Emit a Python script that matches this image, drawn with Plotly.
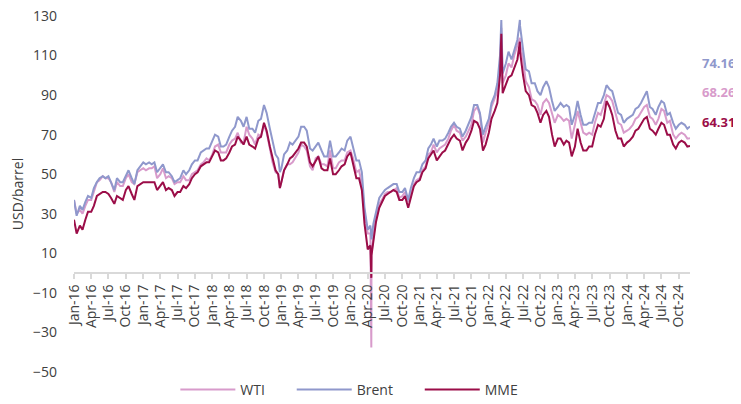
import pandas as pd
import plotly.graph_objects as go

# semi-monthly observation dates (1st and 15th), plus a few event days
base_dates = []
for yr in range(2016, 2025):
    for mo in range(1, 13):
        for d in (1, 15):
            dt = pd.Timestamp(yr, mo, d)
            if dt <= pd.Timestamp("2024-11-15"):
                base_dates.append(dt)
base_dates.append(pd.Timestamp("2024-11-29"))

brent = [
    37, 29, 34, 32, 36, 39, 38, 43, 46, 48, 49, 48, 49, 46, 42, 48, 46, 46, 49, 52, 48, 45, 52, 54,
    56, 55, 56, 55, 56, 51, 53, 55, 51, 51, 49, 46, 47, 48, 52, 50, 52, 55, 57, 57, 61, 62, 63, 63,
    67, 70, 69, 64, 64, 65, 69, 72, 74, 79, 77, 74, 79, 73, 73, 71, 77, 78, 85, 81, 73, 66, 60, 58,
    53, 60, 62, 66, 65, 67, 69, 74, 74, 72, 63, 62, 64, 66, 62, 59, 59, 67, 59, 59, 61, 63, 62, 67,
    69, 64, 57, 57, 51, 33, 22, 24, 25, 31, 38, 40, 42, 43, 44, 45, 45, 41, 41, 43, 37, 43, 48, 51,
    51, 55, 57, 63, 65, 68, 64, 67, 67, 68, 71, 74, 76, 74, 73, 69, 72, 75, 79, 85, 85, 81, 70, 74,
    78, 86, 90, 96, 110, 101, 106, 112, 108, 113, 118, 125, 113, 103, 102, 96, 96, 92, 90, 94, 97, 94, 87, 82,
    84, 86, 84, 85, 84, 75, 80, 87, 80, 75, 75, 76, 76, 80, 86, 86, 90, 95, 93, 92, 86, 81, 80, 76,
    78, 79, 80, 83, 84, 86, 89, 92, 84, 83, 80, 84, 87, 86, 80, 81, 76, 73, 75, 76, 75, 73, 74.16,
]
wti = [
    37, 30, 32, 30, 34, 37, 37, 41, 46, 47, 49, 48, 48, 46, 41, 46, 44, 44, 48, 50, 46, 45, 51, 52,
    53, 52, 53, 53, 54, 48, 50, 53, 48, 49, 48, 45, 46, 46, 49, 47, 47, 50, 51, 52, 55, 56, 58, 57,
    60, 64, 65, 61, 61, 61, 65, 67, 68, 71, 66, 66, 74, 70, 68, 65, 70, 69, 75, 71, 63, 56, 51, 50,
    46, 52, 55, 55, 56, 58, 61, 65, 64, 62, 54, 52, 58, 59, 55, 55, 54, 62, 53, 53, 56, 57, 57, 61,
    62, 58, 51, 52, 45, 31, 20, 20, 19, 29, 35, 37, 40, 41, 41, 42, 43, 38, 39, 41, 36, 40, 45, 47,
    48, 52, 54, 60, 61, 65, 61, 63, 64, 65, 68, 72, 75, 72, 71, 67, 69, 72, 75, 82, 84, 80, 66, 71,
    76, 84, 88, 92, 103, 96, 100, 106, 104, 110, 115, 116, 108, 97, 94, 88, 87, 85, 80, 86, 88, 86, 80, 76,
    80, 79, 77, 78, 77, 68, 75, 82, 76, 71, 70, 71, 70, 76, 81, 80, 85, 90, 89, 87, 81, 76, 75, 71,
    72, 73, 75, 78, 79, 81, 84, 85, 79, 78, 75, 78, 83, 82, 76, 77, 70, 68, 70, 71, 70, 68, 68.26,
]
mme = [
    27, 20, 24, 22, 27, 31, 31, 34, 39, 40, 41, 41, 40, 38, 35, 39, 38, 37, 42, 44, 40, 37, 44, 45,
    46, 46, 46, 46, 46, 42, 44, 46, 42, 43, 42, 39, 41, 41, 44, 43, 45, 48, 50, 51, 54, 55, 56, 56,
    59, 62, 61, 57, 57, 58, 61, 64, 65, 69, 67, 65, 69, 65, 64, 63, 68, 69, 76, 72, 64, 58, 52, 50,
    46, 52, 55, 58, 59, 61, 63, 66, 66, 64, 56, 54, 57, 59, 53, 52, 52, 58, 50, 50, 52, 54, 55, 59,
    61, 55, 48, 48, 42, 25, 12, 14, 17, 26, 33, 36, 39, 40, 41, 42, 41, 37, 37, 39, 33, 38, 44, 46,
    47, 51, 53, 58, 60, 62, 57, 59, 61, 62, 65, 68, 70, 68, 67, 62, 66, 68, 72, 77, 76, 73, 62, 65,
    71, 78, 82, 86, 100, 91, 96, 99, 100, 104, 108, 112, 100, 92, 90, 85, 84, 81, 76, 80, 82, 79, 70, 64,
    68, 68, 65, 67, 66, 59, 64, 73, 66, 62, 62, 64, 64, 70, 75, 74, 78, 87, 84, 80, 72, 68, 68, 64,
    66, 67, 69, 72, 73, 75, 78, 79, 73, 72, 70, 73, 76, 75, 70, 70, 65, 63, 66, 67, 66, 64, 64.31,
]

# extra event days
event_dates = ["2018-12-24", "2020-04-20", "2020-04-21", "2022-03-08", "2022-06-14"]
event_brent = [51, 20, 17, 128, 128]
event_wti = [43, -37.6, 10, 124, 119]
event_mme = [43, -2.4, 9, 121, 117]

df = pd.DataFrame({"date": base_dates, "brent": brent, "wti": wti, "mme": mme})
ev = pd.DataFrame({"date": pd.to_datetime(event_dates), "brent": event_brent,
                   "wti": event_wti, "mme": event_mme})
df = pd.concat([df, ev]).sort_values("date").reset_index(drop=True)

NB = "\u00a0"
legend_names = ["WTI" + NB * 6, "Brent" + NB * 6, "MME"]
series_cols = ["wti", "brent", "mme"]
colors = ["#d89bcb", "#8f98cc", "#9b0d48"]
end_labels = ["68.26", "74.16", "64.31"]
end_label_y = [91.7, 106.3, 76.5]

tick_dates = pd.date_range("2016-01-01", "2024-10-01", freq="QS")
tick_text = [d.strftime("%b-%y") for d in tick_dates]

FONT = "Open Sans"
fig = go.Figure()
for name, col, c in zip(legend_names, series_cols, colors):
    fig.add_trace(go.Scatter(x=df["date"], y=df[col], name=name, mode="lines",
                             line=dict(color=c, width=2)))

for lab, yv, c in zip(end_labels, end_label_y, colors):
    fig.add_annotation(x=1, xref="paper", y=yv, yref="y", text=f"<b>{lab}</b>",
                       showarrow=False, xanchor="left", xshift=10,
                       font=dict(family=FONT, size=13, color=c))

# page body adds an 8px offset; the figure is sized to fit the 741x404 window
fig.update_layout(
    width=733, height=396,
    margin=dict(l=66, r=51, t=8, b=32, autoexpand=False),
    paper_bgcolor="white", plot_bgcolor="white",
    font=dict(family=FONT, size=13, color="#404040"),
    showlegend=True,
    legend=dict(orientation="h", x=0.447, xanchor="center", y=-0.05, yanchor="middle",
                font=dict(size=14, color="#404040"), itemwidth=55),
    xaxis=dict(
        type="date", range=["2016-01-01", "2024-11-29"], automargin=False,
        tickvals=list(tick_dates), ticktext=tick_text, tickangle=-90,
        showgrid=False, showline=True, linecolor="#d9d9d9", linewidth=1.5,
        ticks="outside", ticklen=5, tickcolor="#d9d9d9", tickwidth=1.5,
        anchor="free", position=50 / 180, zeroline=False,
        tickfont=dict(size=14, color="#404040"), ticklabeloverflow="allow",
    ),
    yaxis=dict(
        range=[-50, 130], tickvals=list(range(-50, 131, 20)), automargin=False,
        showgrid=False, showline=False, zeroline=False, ticks="",
        ticklabelstandoff=16, tickfont=dict(size=14, color="#404040"),
        ticklabeloverflow="allow",
        title=dict(text="USD/barrel", font=dict(size=14, color="#404040"), standoff=10),
    ),
)

fig.write_html("out.html")
